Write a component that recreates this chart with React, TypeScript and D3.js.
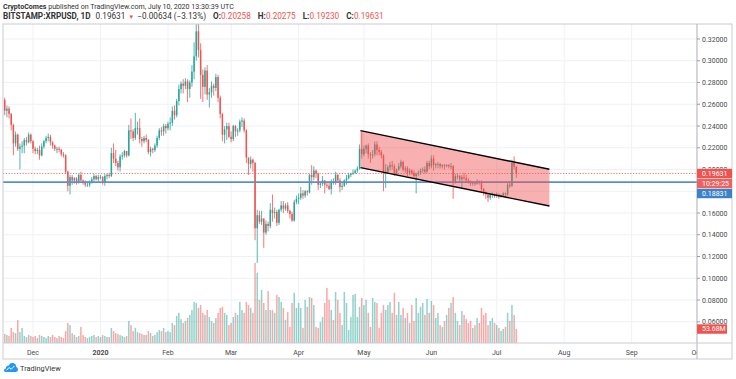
import React from "react";
import * as d3 from "d3";

// ---- data (daily XRP/USD candles, Bitstamp, from 2019-11-18) ----
const START = Date.UTC(2019, 10, 18);
const FIRST_OPEN = 0.264;

const closes = [
  // Nov 18-30
  .254,.256,.251,.241,.224,.232,.219,.221,.222,.227,.225,.232,.226,
  // Dec
  .219,.217,.218,.213,.221,.226,.229,.230,.225,.222,.219,.219,.218,.214,.213,.198,.185,.193,.190,.192,.188,.195,.190,.188,.186,.186,.188,.191,.194,.191,.193,
  // Jan
  .193,.188,.194,.195,.194,.215,.210,.206,.202,.212,.213,.217,.213,.236,.235,.229,.238,.238,.228,.226,.229,.227,.216,.219,.218,.222,.229,.236,.235,.240,.238,
  // Feb
  .242,.243,.254,.250,.263,.274,.279,.277,.281,.274,.280,.290,.304,.327,.310,.287,.276,.291,.269,.271,.277,.275,.285,.266,.251,.232,.237,.240,.230,
  // Mar
  .228,.240,.235,.236,.244,.245,.236,.211,.205,.209,.206,.146,.158,.152,.155,.142,.150,.148,.163,.160,.161,.151,.163,.167,.164,.167,.162,.159,.153,.170,.173,
  // Apr
  .174,.178,.176,.180,.179,.195,.193,.199,.196,.186,.187,.190,.186,.185,.182,.189,.188,.195,.190,.184,.185,.190,.192,.195,.196,.197,.199,.201,.219,.214,
  // May
  .219,.222,.214,.213,.214,.223,.218,.216,.213,.198,.198,.202,.204,.203,.196,.200,.203,.207,.200,.201,.197,.199,.197,.194,.196,.197,.199,.200,.198,.206,.203,
  // Jun
  .210,.204,.205,.205,.203,.204,.203,.204,.203,.203,.189,.194,.194,.191,.193,.192,.190,.189,.187,.188,.187,.189,.188,.182,.179,.177,.174,.177,.177,.176,
  // Jul 1-10
  .177,.175,.176,.178,.177,.186,.185,.206,.20258,.19631,
];

const highs = [
  .266,.259,.258,.252,.242,.235,.233,.224,.226,.229,.230,.234,.233,
  .227,.221,.220,.222,.224,.227,.231,.233,.232,.226,.223,.221,.221,.219,.216,.214,.199,.195,.195,.193,.193,.196,.198,.191,.190,.189,.190,.193,.196,.195,.195,
  .195,.194,.196,.196,.197,.220,.224,.218,.208,.214,.216,.218,.217,.241,.247,.237,.252,.244,.247,.230,.231,.232,.228,.221,.220,.224,.231,.238,.239,.242,.242,
  .244,.248,.258,.259,.265,.278,.281,.283,.284,.283,.282,.296,.317,.334,.340,.316,.292,.294,.296,.275,.281,.279,.288,.287,.268,.252,.240,.243,.243,
  .235,.241,.241,.238,.246,.248,.247,.237,.211,.212,.210,.207,.163,.162,.162,.155,.153,.152,.169,.177,.165,.163,.164,.171,.171,.169,.170,.163,.161,.172,.176,
  .178,.184,.181,.181,.181,.196,.204,.203,.200,.197,.189,.194,.190,.189,.189,.191,.192,.198,.196,.192,.188,.191,.195,.197,.197,.200,.200,.203,.223,.234,
  .222,.223,.224,.216,.218,.226,.226,.221,.218,.214,.205,.204,.207,.208,.205,.201,.206,.209,.208,.203,.203,.201,.200,.199,.197,.199,.201,.202,.203,.208,.208,
  .213,.213,.206,.207,.206,.205,.205,.205,.205,.206,.204,.196,.196,.195,.195,.197,.195,.192,.190,.189,.189,.191,.190,.190,.183,.180,.178,.178,.179,.178,
  .179,.178,.177,.179,.179,.188,.189,.209,.212,.20275,
];

const lows = [
  .250,.248,.247,.236,.213,.221,.217,.200,.215,.215,.222,.224,.224,
  .215,.214,.214,.209,.212,.219,.224,.226,.222,.219,.217,.215,.216,.212,.211,.196,.180,.177,.186,.187,.186,.187,.189,.186,.184,.184,.184,.187,.189,.190,.189,
  .191,.186,.185,.191,.192,.193,.206,.203,.199,.198,.209,.211,.211,.212,.228,.226,.227,.232,.224,.221,.224,.225,.214,.212,.215,.216,.220,.227,.231,.231,.233,
  .236,.236,.240,.246,.248,.259,.270,.270,.274,.262,.266,.276,.283,.300,.303,.265,.262,.269,.264,.257,.266,.268,.272,.262,.247,.226,.224,.227,.229,
  .225,.226,.230,.231,.234,.239,.234,.206,.195,.201,.198,.135,.114,.150,.149,.128,.140,.143,.146,.152,.155,.148,.149,.161,.160,.162,.160,.155,.152,.152,.168,
  .168,.172,.173,.174,.176,.178,.186,.190,.192,.181,.183,.185,.178,.183,.181,.177,.186,.186,.188,.179,.181,.184,.186,.191,.193,.195,.196,.197,.200,.210,
  .212,.215,.210,.206,.210,.212,.213,.213,.210,.180,.183,.196,.199,.200,.194,.195,.199,.201,.198,.197,.194,.195,.195,.192,.178,.194,.195,.197,.196,.197,.200,
  .201,.199,.201,.201,.201,.201,.200,.202,.201,.200,.173,.187,.191,.189,.183,.190,.188,.187,.185,.185,.185,.186,.186,.180,.176,.173,.170,.172,.174,.174,
  .174,.173,.174,.175,.175,.176,.183,.184,.200,.1923,
];

// volume in millions of XRP
const volumes = [
  35,31,27,58,42,38,88,42,58,27,23,31,27,
  23,27,19,31,27,23,19,27,23,31,23,19,27,23,19,46,77,69,38,31,23,27,62,31,23,19,23,27,31,23,27,
  23,31,27,23,23,58,46,38,35,31,27,23,27,85,69,46,58,42,38,35,31,31,46,38,27,31,42,50,46,58,42,
  46,42,77,69,104,116,92,77,85,96,108,127,158,154,135,146,116,108,127,100,85,77,96,116,135,139,116,108,69,
  77,100,116,108,158,127,116,158,146,135,116,308,270,166,204,154,127,200,127,127,116,185,177,158,135,89,119,62,154,193,135,
  154,135,58,166,139,177,173,146,62,58,81,100,154,212,166,127,89,196,166,116,69,196,154,50,100,185,189,100,139,173,
  146,166,116,62,173,158,154,58,116,146,127,146,158,116,193,108,158,108,135,96,116,77,146,85,173,116,139,154,108,169,116,
  162,146,96,116,69,62,85,108,135,154,177,116,85,69,123,108,92,77,85,58,69,96,77,135,108,116,69,85,96,77,
  69,58,46,54,62,116,85,146,108,53.68,
];

// ticks drawn on the price scale (0.18000 is hidden under the support label in the reference)
const priceTicks = [0.32, 0.30, 0.28, 0.26, 0.24, 0.22, 0.20, 0.18, 0.16, 0.14, 0.12, 0.10, 0.08, 0.06];
const hiddenTickLabels = [0.18];

// parallel channel drawing
const channelDates = [Date.UTC(2020, 3, 29, 10), Date.UTC(2020, 6, 25, 5)];
const channelTop = [0.2357, 0.2002];
const channelBottom = [0.2017, 0.1664];

const LAST_PRICE = 0.19631;
const SUPPORT = 0.18831;
const LAST_VOLUME_LABEL = "53.68M";
const COUNTDOWN = "10:29:25";

const UP = "#26a69a";
const DOWN = "#ef5350";
const FONT = "Roboto, 'Open Sans', Arial, sans-serif";

export default function App() {
  const W = 736, H = 379;
  const left = 3, right = 697, top = 24, bottom = 343;
  const DAY = 86400000;

  const x = d3.scaleUtc()
    .domain([new Date(Date.UTC(2019, 11, 1)), new Date(Date.UTC(2020, 9, 1))])
    .range([33, 697]);
  const y = d3.scaleLinear().domain([0.06, 0.32]).range([321.75, 39]);
  const yv = d3.scaleLinear().domain([0, 300]).range([bottom, 265]);

  const candles = closes.map((c, i) => {
    const o = i === 0 ? FIRST_OPEN : closes[i - 1];
    return {
      date: new Date(START + i * DAY),
      o, c,
      h: Math.max(highs[i], o, c),
      l: Math.min(lows[i], o, c),
      v: volumes[i],
    };
  });

  const months = d3.utcMonth.range(new Date(Date.UTC(2019, 11, 1)), new Date(Date.UTC(2020, 9, 2)));
  const fmtMonth = (d: Date) => (d.getUTCMonth() === 0 ? String(d.getUTCFullYear()) : d3.utcFormat("%b")(d));

  const bw = 1.5;

  const chX = channelDates.map((d) => x(new Date(d)));
  const channelPoly = [
    [chX[0], y(channelTop[0])],
    [chX[1], y(channelTop[1])],
    [chX[1], y(channelBottom[1])],
    [chX[0], y(channelBottom[0])],
  ];

  const lastY = y(LAST_PRICE);

  const labelBox = (cy: number, fill: string, text: string, w = 35, key?: string) => (
    <g key={key || text}>
      <rect x={right} y={cy - 4.7} width={w} height={9.4} fill={fill} />
      <text x={right + 5} y={cy + 2.4} fontSize={7} fill="#fff" fontFamily={FONT}>{text}</text>
    </g>
  );

  return (
    <svg width={W} height={H} style={{ position: "absolute", left: 0, top: 0, background: "#fff" }}>
      <defs>
        <clipPath id="plot">
          <rect x={left} y={top} width={right - left} height={bottom - top} />
        </clipPath>
        <clipPath id="timeaxis">
          <rect x={left} y={bottom} width={right - left} height={16} />
        </clipPath>
        <clipPath id="abovebox">
          <rect x={right} y={top} width={40} height={lastY - 4.7 - top} />
        </clipPath>
      </defs>

      {/* header */}
      <text x={3} y={8.5} fontSize={7.1} fill="#333" fontFamily={FONT}>
        <tspan fontWeight={700}>CryptoComes</tspan>
        <tspan> published on TradingView.com, July 10, 2020 13:30:39 UTC</tspan>
      </text>
      <text x={3} y={18.5} fontSize={8.2} fill="#333" fontFamily={FONT}>
        <tspan fontWeight={700}>BITSTAMP:XRPUSD, 1D</tspan>
        <tspan dx={5}>0.19631</tspan>
        <tspan dx={3} fill={DOWN} fontSize={6}>▼</tspan>
        <tspan dx={3}>−0.00634 (−3.13%)</tspan>
        <tspan dx={7} fontWeight={700}>O:</tspan><tspan fill={DOWN}>0.20258</tspan>
        <tspan dx={7} fontWeight={700}>H:</tspan><tspan fill={DOWN}>0.20275</tspan>
        <tspan dx={7} fontWeight={700}>L:</tspan><tspan fill={DOWN}>0.19230</tspan>
        <tspan dx={7} fontWeight={700}>C:</tspan><tspan fill={DOWN}>0.19631</tspan>
      </text>

      {/* grid */}
      <g clipPath="url(#plot)">
        {priceTicks.map((p) => (
          <line key={"g" + p} x1={left} x2={right} y1={y(p)} y2={y(p)} stroke="#eef1f6" strokeWidth={1} />
        ))}
        {months.map((m) => (
          <line key={"v" + m.getTime()} x1={x(m)} x2={x(m)} y1={top} y2={bottom} stroke="#eef1f6" strokeWidth={1} />
        ))}
      </g>

      {/* volume */}
      <g clipPath="url(#plot)">
        {candles.map((d, i) => (
          <rect
            key={"vol" + i}
            x={x(d.date) - bw / 2}
            y={yv(d.v)}
            width={bw}
            height={bottom - yv(d.v)}
            fill={d.c >= d.o ? UP : DOWN}
            opacity={0.5}
          />
        ))}
      </g>

      {/* candles */}
      <g clipPath="url(#plot)">
        {candles.map((d, i) => {
          const cx = x(d.date);
          const col = d.c >= d.o ? UP : DOWN;
          const y0 = y(Math.max(d.o, d.c));
          const y1 = y(Math.min(d.o, d.c));
          return (
            <g key={"c" + i}>
              <line x1={cx} x2={cx} y1={y(d.h)} y2={y(d.l)} stroke={col} strokeWidth={0.8} />
              <rect x={cx - bw / 2} y={y0} width={bw} height={Math.max(0.8, y1 - y0)} fill={col} />
            </g>
          );
        })}
      </g>

      {/* horizontal lines */}
      <g clipPath="url(#plot)">
        <line x1={left} x2={right} y1={y(SUPPORT)} y2={y(SUPPORT)} stroke="#5b8fcc" strokeWidth={1.8} />
        <line x1={left} x2={right} y1={lastY} y2={lastY} stroke={DOWN} strokeWidth={0.8} strokeDasharray="1.2,1.6" />
      </g>

      {/* channel */}
      <g clipPath="url(#plot)">
        <polygon points={channelPoly.map((p) => p.join(",")).join(" ")} fill={DOWN} opacity={0.45} />
        <line x1={chX[0]} x2={chX[1]} y1={y(channelTop[0])} y2={y(channelTop[1])} stroke="#000" strokeWidth={1.4} />
        <line x1={chX[0]} x2={chX[1]} y1={y(channelBottom[0])} y2={y(channelBottom[1])} stroke="#000" strokeWidth={1.4} />
      </g>

      {/* frame */}
      <rect x={left} y={top} width={732 - left} height={359 - top} fill="none" stroke="#c9ccd3" strokeWidth={1} />
      <line x1={right} x2={right} y1={top} y2={359} stroke="#b0b3ba" strokeWidth={1} />
      <line x1={left} x2={732} y1={bottom} y2={bottom} stroke="#c9ccd3" strokeWidth={1} />

      {/* price axis */}
      {priceTicks.map((p) => (
        <g key={"t" + p}>
          <line x1={right} x2={right + 3} y1={y(p)} y2={y(p)} stroke="#888" strokeWidth={0.8} />
          {hiddenTickLabels.includes(p) ? null : (
            <text
              x={right + 5}
              y={y(p) + 2.5}
              fontSize={7}
              fill="#4a4a4a"
              fontFamily={FONT}
              clipPath={Math.abs(y(p) - lastY) < 8 ? "url(#abovebox)" : undefined}
            >
              {d3.format(".5f")(p)}
            </text>
          )}
        </g>
      ))}
      {labelBox(lastY, DOWN, d3.format(".5f")(LAST_PRICE), 35, "lp")}
      {labelBox(lastY + 10, "#f0605e", COUNTDOWN, 35, "cd")}
      {labelBox(lastY + 20, "#3b82c9", d3.format(".5f")(SUPPORT), 35, "sp")}
      {labelBox(yv(volumes[volumes.length - 1]), DOWN, LAST_VOLUME_LABEL, 30, "vl")}

      {/* time axis */}
      <g clipPath="url(#timeaxis)">
        {months.map((m) => (
          <text
            key={"m" + m.getTime()}
            x={x(m)}
            y={354.5}
            fontSize={7}
            fill="#4a4a4a"
            textAnchor="middle"
            fontFamily={FONT}
            fontWeight={m.getUTCMonth() === 0 ? 700 : 400}
          >
            {fmtMonth(m)}
          </text>
        ))}
      </g>

      {/* TradingView logo */}
      <g transform="translate(4,362)">
        <path d="M1.5 10 Q0 10 0 8.3 Q0 6.6 1.8 6.5 Q2 3.6 4.8 3.4 Q6 0.5 9 1 Q12.2 1.6 12.3 5 Q14 5.4 14 7.6 Q14 10 11.8 10 Z" fill="#2196f3" />
        <polyline points="2.5,8.3 5,5.5 7.2,7.3 10.5,3.8" fill="none" stroke="#fff" strokeWidth={1} />
      </g>
      <text x={20} y={371} fontSize={7.4} fill="#333" fontFamily={FONT}>TradingView</text>
    </svg>
  );
}
